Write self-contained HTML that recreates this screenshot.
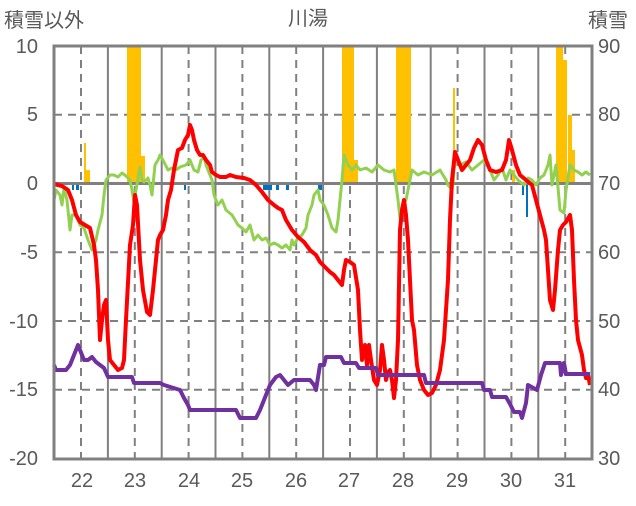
<!DOCTYPE html><html><head><meta charset="utf-8"><style>body{margin:0;background:#fff}svg text{font-family:"Liberation Sans","Noto Sans CJK JP",sans-serif;fill:#595959}</style></head><body>
<svg width="636" height="501" viewBox="0 0 636 501">
<g stroke="#808080" stroke-width="2">
<line x1="54" y1="114.8" x2="592" y2="114.8" stroke-dasharray="8,6"/>
<line x1="54" y1="252.2" x2="592" y2="252.2" stroke-dasharray="8,6"/>
<line x1="54" y1="321" x2="592" y2="321" stroke-dasharray="8,6"/>
<line x1="54" y1="389.7" x2="592" y2="389.7" stroke-dasharray="8,6"/>
<g stroke-dasharray="8,6"><line x1="81" y1="46" x2="81" y2="459"/><line x1="134.8" y1="46" x2="134.8" y2="459"/><line x1="188.6" y1="46" x2="188.6" y2="459"/><line x1="242.4" y1="46" x2="242.4" y2="459"/><line x1="296.2" y1="46" x2="296.2" y2="459"/><line x1="350" y1="46" x2="350" y2="459"/><line x1="403.8" y1="46" x2="403.8" y2="459"/><line x1="457.6" y1="46" x2="457.6" y2="459"/><line x1="511.4" y1="46" x2="511.4" y2="459"/><line x1="565.2" y1="46" x2="565.2" y2="459"/></g>
<line x1="107.9" y1="46" x2="107.9" y2="459"/><line x1="161.7" y1="46" x2="161.7" y2="459"/><line x1="215.5" y1="46" x2="215.5" y2="459"/><line x1="269.3" y1="46" x2="269.3" y2="459"/><line x1="323.1" y1="46" x2="323.1" y2="459"/><line x1="376.9" y1="46" x2="376.9" y2="459"/><line x1="430.7" y1="46" x2="430.7" y2="459"/><line x1="484.5" y1="46" x2="484.5" y2="459"/><line x1="538.3" y1="46" x2="538.3" y2="459"/>
</g>
<g fill="#FFC000">
<rect x="84" y="143" width="2" height="40"/><rect x="86" y="170" width="4" height="13"/>
<rect x="127" y="46" width="14" height="137"/><rect x="141" y="156" width="4" height="27"/>
<rect x="342" y="46" width="12" height="137"/><rect x="354" y="160" width="4" height="23"/>
<rect x="396" y="46" width="15" height="137"/>
<rect x="453" y="88" width="2" height="95"/><rect x="512" y="170" width="3" height="13"/>
<rect x="556" y="46" width="7" height="137"/><rect x="563" y="60" width="4" height="123"/><rect x="568" y="115" width="4" height="68"/><rect x="572" y="150" width="3" height="33"/>
</g>
<g fill="#0070C0">
<rect x="72" y="183" width="2" height="7"/><rect x="76" y="183" width="3" height="7"/><rect x="184" y="183" width="2" height="7"/>
<rect x="263" y="183" width="9" height="7"/><rect x="276" y="183" width="3" height="7"/><rect x="286" y="183" width="3" height="7"/><rect x="318" y="183" width="4" height="7"/>
<rect x="522" y="183" width="2" height="12"/><rect x="526" y="183" width="2" height="34"/>
</g>
<line x1="54" y1="183.5" x2="592" y2="183.5" stroke="#808080" stroke-width="3"/>
<polyline fill="none" stroke="#92D050" stroke-width="3" stroke-linejoin="round" points="54,200 56,190 60,195 62,205 64,188 67,200 70,230 72,215 76,215 80,225 84,228 88,240 92,250 96,240 98,230 102,215 104,195 106,180 110,175 114,175 118,177 122,173 126,176 130,180 132,190 134,203 136,190 138,178 140,167 142,180 144,182 148,178 150,185 152,195 155,165 158,160 160,155 164,162 168,170 172,168 176,170 180,167 186,165 190,160 194,170 198,172 201,160 204,157 206,165 208,170 212,180 214,195 218,205 222,200 226,210 232,215 238,225 242,228 246,232 250,225 254,240 258,235 262,240 266,238 270,245 274,243 278,245 282,248 286,245 290,250 292,240 294,245 298,238 302,235 306,228 308,215 312,205 314,195 318,190 320,200 324,205 328,215 332,228 336,232 338,220 342,180 344,155 348,165 352,170 356,165 360,170 366,168 372,172 378,165 384,170 390,172 394,170 396,185 398,200 400,218 403,205 406,200 408,190 410,180 412,170 418,175 424,172 432,175 440,170 446,180 448,185 452,190 454,170 456,158 460,165 466,162 472,170 478,165 484,160 490,170 494,180 498,175 502,168 506,180 510,170 514,175 518,180 524,185 528,178 532,180 536,185 540,178 544,175 548,165 550,155 552,185 556,165 560,210 564,213 566,190 570,165 574,170 578,172 582,175 586,172 590,175"/>
<polyline fill="none" stroke="#FF0000" stroke-width="4" stroke-linejoin="round" points="54,184 62,186 68,190 72,200 76,215 80,222 85,225 90,228 94,245 96,260 98,290 100,340 102,320 104,305 106,300 108,340 110,360 114,365 118,370 122,368 124,360 126,320 130,245 133,225 135,195 137,205 140,260 143,290 147,312 150,315 153,290 156,260 158,240 160,235 163,230 166,215 168,200 171,190 174,170 178,150 182,148 185,140 188,135 190,125 192,130 194,140 197,150 200,155 203,155 206,160 210,165 212,172 216,175 220,177 226,177 230,175 236,177 244,178 250,180 256,185 262,192 268,200 274,205 278,208 282,210 286,220 292,230 298,237 304,242 310,250 316,255 320,262 326,268 330,272 334,275 338,280 342,285 344,270 346,260 350,262 354,265 358,290 360,330 362,360 365,345 367,365 369,345 371,360 374,380 377,385 380,370 382,345 384,360 386,380 388,372 390,370 392,380 394,398 396,380 398,340 400,230 402,210 404,200 406,215 408,240 410,280 412,320 414,330 417,365 420,380 424,390 428,395 432,393 436,385 440,370 444,340 448,280 450,220 452,180 455,152 458,160 462,170 466,165 470,160 474,148 478,140 482,145 486,160 490,170 496,172 502,170 506,160 509,140 512,150 516,165 520,175 526,180 532,185 536,200 540,215 544,230 546,240 548,270 550,300 553,310 555,290 558,250 560,230 563,225 566,222 570,215 572,230 574,280 576,320 578,340 582,355 584,370 586,378 588,375 590,385"/>
<polyline fill="none" stroke="#7030A0" stroke-width="4" stroke-linejoin="round" points="54,365 56,370 66,370 70,365 74,355 78,345 82,355 84,360 88,360 92,357 96,362 100,365 104,368 108,377 124,377 132,377 134,383 160,383 164,385 180,390 184,398 188,405 190,410 236,410 240,418 256,418 260,410 266,395 270,385 276,377 280,375 284,380 288,385 294,380 310,380 314,385 316,390 320,365 324,365 326,357 341,357 344,363 356,363 359,368 376,368 378,375 424,375 426,383 482,383 484,390 490,390 492,397 506,397 510,404 514,412 520,412 522,418 526,403 528,385 537,390 541,375 545,363 560,363 561,375 564,363 566,374 590,374"/>
<rect x="54" y="46" width="538" height="413" fill="none" stroke="#808080" stroke-width="3"/>
<g font-size="20" text-anchor="end"><text x="38" y="53">10</text><text x="38" y="121">5</text><text x="38" y="190">0</text><text x="38" y="259">-5</text><text x="38" y="328">-10</text><text x="38" y="396">-15</text><text x="38" y="465">-20</text></g>
<g font-size="20" text-anchor="start"><text x="598" y="53">90</text><text x="598" y="121">80</text><text x="598" y="190">70</text><text x="598" y="259">60</text><text x="598" y="328">50</text><text x="598" y="396">40</text><text x="598" y="465">30</text></g>
<g font-size="20" text-anchor="middle"><text x="82" y="487">22</text><text x="135" y="487">23</text><text x="189" y="487">24</text><text x="242" y="487">25</text><text x="296" y="487">26</text><text x="349" y="487">27</text><text x="403" y="487">28</text><text x="457" y="487">29</text><text x="511" y="487">30</text><text x="565" y="487">31</text></g>
<text x="4" y="27" font-size="20">積雪以外</text>
<text x="308" y="25" font-size="20" text-anchor="middle">川湯</text>
<text x="588" y="27" font-size="20">積雪</text>
</svg></body></html>
